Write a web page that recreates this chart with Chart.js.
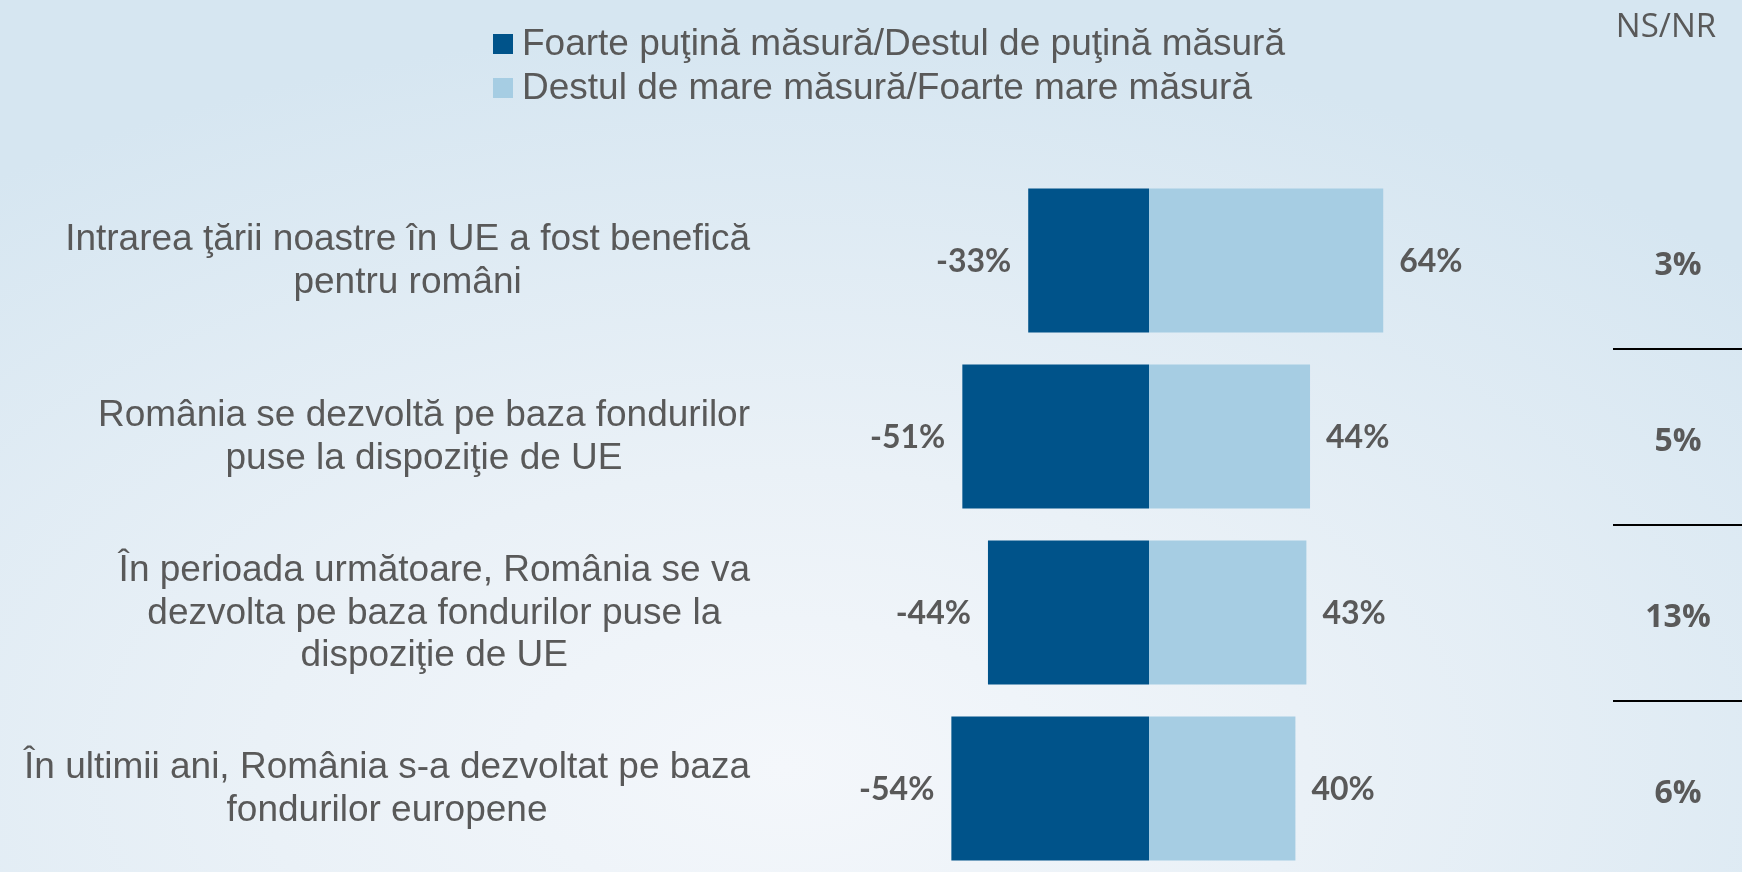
<!DOCTYPE html>
<html>
<head>
<meta charset="utf-8">
<script src="https://cdn.jsdelivr.net/npm/chart.js@4.4.1/dist/chart.umd.min.js"></script>
<style>
  html, body { margin: 0; padding: 0; overflow: hidden; }
  body {
    width: 1742px; height: 872px;
    background: radial-gradient(ellipse 75% 85% at 45% 88%, #f4f7fb 0%, #eaf1f7 40%, #d6e6f1 100%);
  }
  #chart { position: absolute; left: 0; top: 0; }
</style>
</head>
<body>
<canvas id="chart" width="1742" height="880"></canvas>
<script>
const categories = [
  ["Intrarea ţării noastre în UE a fost benefică", "pentru români"],
  ["România se dezvoltă pe baza fondurilor", "puse la dispoziţie de UE"],
  ["În perioada următoare, România se va", "dezvolta pe baza fondurilor puse la", "dispoziţie de UE"],
  ["În ultimii ani, România s-a dezvoltat pe baza", "fondurilor europene"],
];
const seriesNames = [
  "Foarte puţină măsură/Destul de puţină măsură",
  "Destul de mare măsură/Foarte mare măsură",
];
const lowValues = [-33, -51, -44, -54];
const highValues = [64, 44, 43, 40];
const nsHeader = "NS/NR";
const nsValues = [3, 5, 13, 6];

const darkBlue = "#00538a";
const lightBlue = "#a6cde3";
const textGray = "#595959";

const overlay = {
  id: "overlay",
  afterDraw(chart) {
    const ctx = chart.ctx;
    const yScale = chart.scales.y;
    ctx.save();

    // legend
    ctx.font = "37px 'Liberation Sans', Arial, sans-serif";
    ctx.textBaseline = "middle";
    ctx.textAlign = "left";
    chart.data.datasets.forEach((ds, i) => {
      const cy = 44 + i * 44;
      ctx.fillStyle = ds.backgroundColor;
      ctx.fillRect(493, cy - 10, 20, 20);
      ctx.fillStyle = textGray;
      ctx.fillText(ds.label, 522, cy + 1);
    });

    // category labels, each block centered, right edge fixed
    ctx.font = "37px 'Liberation Sans', Arial, sans-serif";
    const rightEdge = 750;
    const lineH = 42.5;
    chart.data.labels.forEach((lines, i) => {
      const cy = yScale.getPixelForValue(i);
      const w = Math.max(...lines.map((l) => ctx.measureText(l).width));
      const cx = rightEdge - w / 2;
      ctx.textAlign = "center";
      lines.forEach((l, j) => {
        ctx.fillText(l, cx, cy + 1 + (j - (lines.length - 1) / 2) * lineH);
      });
    });

    // value labels
    ctx.font = "bold 32px Lato, sans-serif";
    ctx.fillStyle = textGray;
    chart.data.datasets.forEach((ds, di) => {
      const meta = chart.getDatasetMeta(di);
      meta.data.forEach((bar, i) => {
        const v = ds.data[i];
        if (v < 0) {
          ctx.textAlign = "right";
          ctx.fillText(v + "%", Math.min(bar.x, bar.base) - 17, bar.y + 1);
        } else {
          ctx.textAlign = "left";
          ctx.fillText(v + "%", Math.max(bar.x, bar.base) + 16, bar.y + 1);
        }
      });
    });

    // NS/NR column
    ctx.textAlign = "center";
    ctx.font = "33px 'Open Sans', sans-serif";
    ctx.fillText(nsHeader, 1666, 28);
    ctx.font = "bold 32px 'Open Sans', sans-serif";
    nsValues.forEach((v, i) => {
      ctx.fillText(v + "%", 1678, yScale.getPixelForValue(i) + 5);
    });
    ctx.strokeStyle = "#000";
    ctx.lineWidth = 2;
    for (let i = 0; i < nsValues.length - 1; i++) {
      const y = Math.round((yScale.getPixelForValue(i) + yScale.getPixelForValue(i + 1)) / 2);
      ctx.beginPath();
      ctx.moveTo(1613, y);
      ctx.lineTo(1742, y);
      ctx.stroke();
    }
    ctx.restore();
  },
};

new Chart(document.getElementById("chart"), {
  type: "bar",
  data: {
    labels: categories,
    datasets: [
      { label: seriesNames[0], data: lowValues, backgroundColor: darkBlue },
      { label: seriesNames[1], data: highValues, backgroundColor: lightBlue },
    ],
  },
  options: {
    indexAxis: "y",
    responsive: false,
    animation: false,
    devicePixelRatio: 1,
    layout: { padding: { left: 783, right: 227, top: 172.5, bottom: 3.5 } },
    datasets: { bar: { categoryPercentage: 1, barPercentage: 0.818 } },
    plugins: { legend: { display: false }, tooltip: { enabled: false } },
    scales: {
      x: { stacked: true, min: -100, max: 100, display: false },
      y: { stacked: true, display: false },
    },
  },
  plugins: [overlay],
});
</script>
</body>
</html>
